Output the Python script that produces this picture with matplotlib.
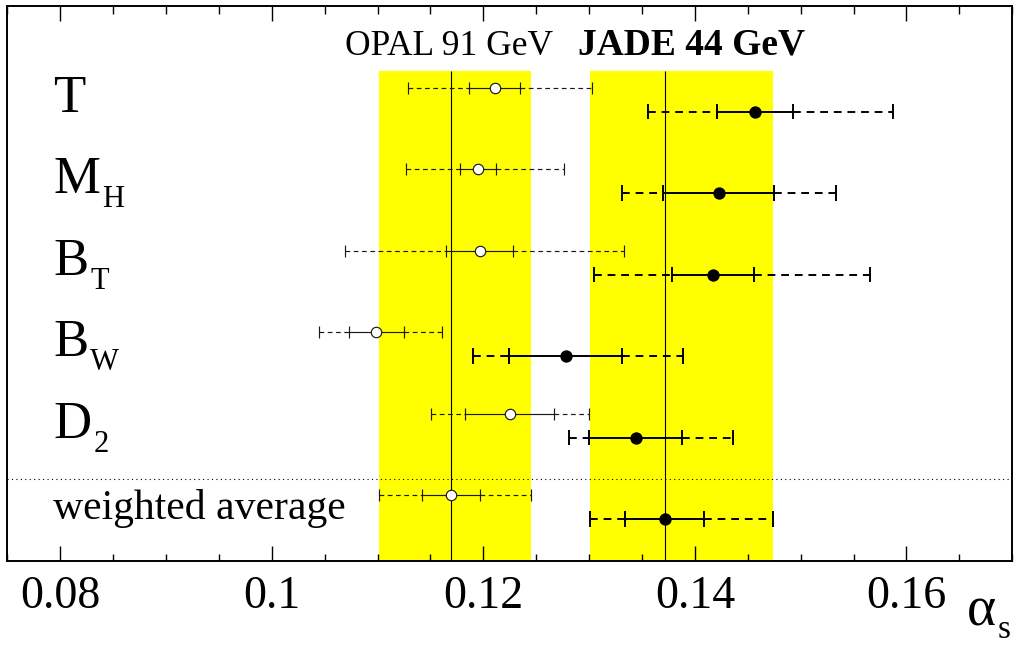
import matplotlib
matplotlib.use("Agg")
import matplotlib.pyplot as plt
from matplotlib.transforms import blended_transform_factory, offset_copy
from matplotlib.ticker import MultipleLocator

plt.rcParams['font.family'] = ['Liberation Serif', 'DejaVu Serif']

# observables, top to bottom (main symbol + subscript)
obs_main = ['T', 'M', 'B', 'B', 'D', 'weighted average']
obs_sub = ['', 'H', 'T', 'W', '2', '']

# OPAL 91 GeV: alpha_s, inner (solid) range and total (dashed) range
opal_val = [0.1211, 0.1195, 0.1197, 0.1099, 0.1225, 0.1169]
opal_in_lo = [0.1186, 0.1178, 0.1165, 0.1073, 0.1183, 0.1142]
opal_in_hi = [0.1235, 0.1212, 0.1228, 0.1125, 0.1267, 0.1197]
opal_tot_lo = [0.1129, 0.1127, 0.1069, 0.1045, 0.1151, 0.1101]
opal_tot_hi = [0.1303, 0.1276, 0.1333, 0.1161, 0.1300, 0.1245]

# JADE 44 GeV
jade_val = [0.1457, 0.1423, 0.1417, 0.1278, 0.1344, 0.1372]
jade_in_lo = [0.1421, 0.1370, 0.1378, 0.1224, 0.1300, 0.1334]
jade_in_hi = [0.1493, 0.1475, 0.1456, 0.1331, 0.1388, 0.1409]
jade_tot_lo = [0.1356, 0.1331, 0.1305, 0.1190, 0.1281, 0.1301]
jade_tot_hi = [0.1587, 0.1533, 0.1566, 0.1389, 0.1436, 0.1474]

xticks = [0.08, 0.10, 0.12, 0.14, 0.16]
xtick_labels = ['0.08', '0.1', '0.12', '0.14', '0.16']

fig = plt.figure(figsize=(10.16, 6.45), dpi=100)
ax = fig.add_axes([0.0072, 0.1307, 0.9891, 0.8605])

y_top, y_bot = -1.30, 5.51
band_top = -0.5
opal_shift = -0.294
n = len(obs_main)
rows = list(range(n))


def draw_set(y, val, in_lo, in_hi, tot_lo, tot_hi, lw, color, cap, dash, mfc, ms):
    ax.hlines(y, tot_lo, in_lo, colors=color, lw=lw, linestyles=[(0, dash)], zorder=3)
    ax.hlines(y, in_hi, tot_hi, colors=color, lw=lw, linestyles=[(0, dash)], zorder=3)
    ax.hlines(y, in_lo, in_hi, colors=color, lw=lw, zorder=3)
    for arr in (tot_lo, in_lo, in_hi, tot_hi):
        ax.vlines(arr, [v - cap for v in y], [v + cap for v in y], colors=color, lw=lw, zorder=3)
    ax.plot(val, y, 'o', mfc=mfc, mec=color, ms=ms, mew=lw, ls='none', zorder=5)


# yellow bands = total range of the weighted averages, line at the average
for lo, hi, c in ((opal_tot_lo[-1], opal_tot_hi[-1], opal_val[-1]),
                  (jade_tot_lo[-1], jade_tot_hi[-1], jade_val[-1])):
    ax.fill_betweenx([band_top, y_bot], lo, hi, color='#ffff00', lw=0, zorder=1)
    ax.vlines(c, band_top, y_bot, colors='black', lw=0.8, zorder=2)

opal_y = [r + opal_shift for r in rows]
draw_set(opal_y, opal_val, opal_in_lo, opal_in_hi, opal_tot_lo, opal_tot_hi,
         lw=0.85, color='#1a1a1a', cap=0.075, dash=(4, 3), mfc='white', ms=7.5)
draw_set(rows, jade_val, jade_in_lo, jade_in_hi, jade_tot_lo, jade_tot_hi,
         lw=1.4, color='black', cap=0.095, dash=(4, 3), mfc='black', ms=7.5)

# separator above the averages
ax.axhline(4.51, color='black', lw=0.8, ls=(0, (1, 3)), zorder=2)

ax.set_xlim(0.075, 0.17)
ax.set_ylim(y_bot, y_top)
ax.set_xticks(xticks)
ax.set_xticklabels(xtick_labels)
ax.xaxis.set_minor_locator(MultipleLocator(0.005))
ax.tick_params(axis='x', which='both', direction='in', top=True, bottom=True,
               width=1.0, labelsize=33, pad=11)
ax.tick_params(axis='x', which='major', length=11)
ax.tick_params(axis='x', which='minor', length=5.4)
ax.set_yticks([])
for s in ax.spines.values():
    s.set_linewidth(1.4)

# headers
hdr = blended_transform_factory(ax.transAxes, ax.transData)
ax.text(0.543, -0.696, 'OPAL 91 GeV', transform=hdr, fontsize=25.5, ha='right', va='baseline')
ax.text(0.568, -0.696, 'JADE 44 GeV', transform=hdr, fontsize=27, fontweight='bold',
        ha='left', va='baseline')

# row labels with subscripts
trans = blended_transform_factory(ax.transAxes, ax.transData)
fig.canvas.draw()
renderer = fig.canvas.get_renderer()
for i, (m, s) in enumerate(zip(obs_main, obs_sub)):
    size = 30 if len(m) > 1 else 38
    t = ax.text(0.0455, i, m, transform=trans, fontsize=size, ha='left', va='baseline')
    if s:
        bb = t.get_window_extent(renderer)
        xa = ax.transAxes.inverted().transform((bb.x1, bb.y0))[0]
        ax.text(xa + 0.002, i, s, transform=offset_copy(trans, fig, y=-10, units='points'),
                fontsize=22, ha='left', va='baseline')

# axis label alpha_s
fig.text(0.9518, 0.0310, '\u03b1', fontsize=40, ha='left', va='baseline')
fig.text(0.9823, 0.0105, 's', fontsize=24, ha='left', va='baseline')

fig.savefig('out.png', dpi=100)
